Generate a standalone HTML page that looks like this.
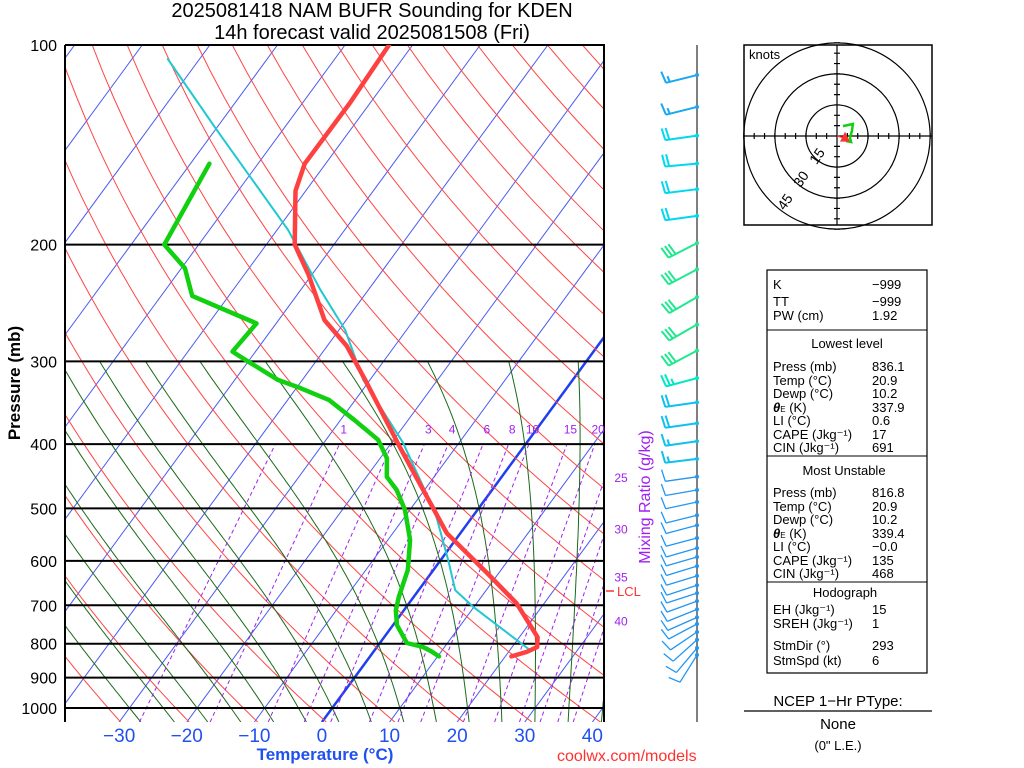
<!DOCTYPE html>
<html><head><meta charset="utf-8"><style>
html,body{margin:0;padding:0;background:#fff;}
svg{display:block;font-family:"Liberation Sans",sans-serif;}
</style></head><body>
<svg id="chart" width="1024" height="768" viewBox="0 0 1024 768" xmlns="http://www.w3.org/2000/svg">
<defs><clipPath id="plotclip"><rect x="65" y="45" width="540" height="677"/></clipPath></defs>
<text x="372" y="17" font-size="20" text-anchor="middle">2025081418 NAM BUFR Sounding for KDEN</text>
<text x="372" y="39" font-size="20" text-anchor="middle">14h forecast valid 2025081508 (Fri)</text>
<g id="bg" clip-path="url(#plotclip)"></g>
<g id="plines"></g>
<g id="traces" clip-path="url(#plotclip)"></g>
<g id="labels"></g>
<text transform="translate(20,383) rotate(-90)" font-size="17" font-weight="bold" text-anchor="middle">Pressure (mb)</text>
<text x="325" y="760" font-size="17" font-weight="bold" fill="#2050f0" text-anchor="middle">Temperature (°C)</text>
<text transform="translate(650,497) rotate(-90)" font-size="16" fill="#a020f0" text-anchor="middle">Mixing Ratio (g/kg)</text>
<text x="557" y="761" font-size="16" fill="#ff3030">coolwx.com/models</text>
<line x1="697" y1="45" x2="697" y2="722" stroke="#555" stroke-width="1.5"/>
<g id="barbs"></g>
<g id="hodo">
<rect x="744" y="45" width="188" height="180" fill="none" stroke="#000" stroke-width="1.5"/>
<text x="749" y="59" font-size="13">knots</text>
</g>
<g font-size="13">
<rect x="767" y="270" width="160" height="403" fill="none" stroke="#000" stroke-width="1.2"/>
<line x1="767" y1="330" x2="927" y2="330" stroke="#000"/>
<line x1="767" y1="456" x2="927" y2="456" stroke="#000"/>
<line x1="767" y1="582" x2="927" y2="582" stroke="#000"/>
<text x="773" y="289">K</text><text x="872" y="289">−999</text>
<text x="773" y="306">TT</text><text x="872" y="306">−999</text>
<text x="773" y="320">PW (cm)</text><text x="872" y="320">1.92</text>
<text x="847" y="348" text-anchor="middle">Lowest level</text>
<text x="773" y="371">Press (mb)</text><text x="872" y="371">836.1</text>
<text x="773" y="385">Temp (°C)</text><text x="872" y="385">20.9</text>
<text x="773" y="398">Dewp (°C)</text><text x="872" y="398">10.2</text>
<text x="773" y="412"><tspan font-style="italic" font-weight="bold">θ</tspan><tspan font-size="8">E</tspan> (K)</text><text x="872" y="412">337.9</text>
<text x="773" y="425">LI (°C)</text><text x="872" y="425">0.6</text>
<text x="773" y="439">CAPE (Jkg⁻¹)</text><text x="872" y="439">17</text>
<text x="773" y="452">CIN (Jkg⁻¹)</text><text x="872" y="452">691</text>
<text x="844" y="475" text-anchor="middle">Most Unstable</text>
<text x="773" y="497">Press (mb)</text><text x="872" y="497">816.8</text>
<text x="773" y="511">Temp (°C)</text><text x="872" y="511">20.9</text>
<text x="773" y="524">Dewp (°C)</text><text x="872" y="524">10.2</text>
<text x="773" y="538"><tspan font-style="italic" font-weight="bold">θ</tspan><tspan font-size="8">E</tspan> (K)</text><text x="872" y="538">339.4</text>
<text x="773" y="551">LI (°C)</text><text x="872" y="551">−0.0</text>
<text x="773" y="565">CAPE (Jkg⁻¹)</text><text x="872" y="565">135</text>
<text x="773" y="578">CIN (Jkg⁻¹)</text><text x="872" y="578">468</text>
<text x="845" y="597" text-anchor="middle">Hodograph</text>
<text x="773" y="614">EH (Jkg⁻¹)</text><text x="872" y="614">15</text>
<text x="773" y="628">SREH (Jkg⁻¹)</text><text x="872" y="628">1</text>
<text x="773" y="650">StmDir (°)</text><text x="872" y="650">293</text>
<text x="773" y="665">StmSpd (kt)</text><text x="872" y="665">6</text>
</g>
<text x="838" y="706" font-size="15" text-anchor="middle">NCEP 1−Hr PType:</text>
<line x1="744" y1="711" x2="932" y2="711" stroke="#000" stroke-width="1.2"/>
<text x="838" y="729" font-size="15" text-anchor="middle">None</text>
<text x="838" y="750" font-size="13" text-anchor="middle">(0" L.E.)</text>
</svg>
<script>
const tempP=[100,122,151,166,200,222,260,284,320,404,545,626,695,782,809,823,836];
const tempT=[-63.5,-63.0,-63.1,-61.5,-55.8,-50.5,-43.2,-37.2,-30.7,-18.3,-2.0,8.3,15.9,22.7,23.7,22.7,20.9];
const dewP=[151,200,217,239,263,290,300,320,329,343,368,394,420,448,469,503,558,619,680,712,750,798,809,822,836];
const dewT=[-77.2,-75.1,-69.5,-65.4,-52.9,-53.4,-50.1,-43.6,-39.5,-33.9,-27.9,-22.3,-19.0,-17.0,-14.1,-10.7,-6.7,-3.8,-2.2,-1.2,0.6,4.0,6.8,8.6,10.2];
const parP=[105,134,190,234,269,320,398,508,598,664,704,755,818];
const parT=[-94.7,-79.9,-58.4,-47.1,-39.1,-31.0,-18.3,-5.9,1.1,5.4,9.9,16.0,23.0];
const windP=[111,124,137,151,165,181,199,218,240,264,289,318,346,372,396,421,448,469,489,512,530,554,574,592,611,632,653,671,690,710,730,747,768,789,812,832];
const windDir=[256,256,262,265,263,262,243,242,240,240,242,255,262,262,262,263,262,260,258,256,255,255,254,254,253,253,252,252,250,248,246,242,236,228,220,212];
const windSpd=[15,15,20,20,20,20,30,30,30,30,30,25,20,20,15,15,10,10,10,10,10,10,10,10,10,10,10,10,10,10,10,10,10,10,10,10];
const hodoU=[2.9,7.7,7.2,6.3,6.8,4.3];
const hodoV=[4.8,5.8,2.4,-1.0,-2.9,-2.4];
const tickTemps=[-30,-20,-10,0,10,20,30,40];
const pLevels=[100,200,300,400,500,600,700,800,900,1000];
const mixRatios=[0.4,1,2,3,4,6,8,10,15,20,25,30,35,40];
const NS="http://www.w3.org/2000/svg";
function Y(p){return 45+663*Math.log10(p/100);}
function X(T,p){return 322+6.76*T+0.733*(722-Y(p));}
function mk(tag,attrs,parent){const e=document.createElementNS(NS,tag);for(const k in attrs)e.setAttribute(k,attrs[k]);parent.appendChild(e);return e;}
const bg=document.getElementById('bg');
for(let T=-150;T<=50;T+=10){
 const l=mk('line',{x1:X(T,1050),y1:Y(1050),x2:X(T,100),y2:Y(100),stroke:T===0?'#2040f0':'#4a5af0','stroke-width':T===0?2.5:1},bg);
 
 
}
for(let th=200;th<=520;th+=10){
 let pts=[];for(let p=1050;p>=100;p-=10){const T=th*Math.pow(p/1000,0.2857)-273.15;pts.push(X(T,p).toFixed(1)+','+Y(p).toFixed(1));}
 const l=mk('polyline',{points:pts.join(' '),fill:'none',stroke:'#ff4545','stroke-width':1},bg);
 
 
}
function dTdp(T,p){const es=6.112*Math.exp(17.67*(T-273.15)/(T-29.65));const rs=0.622*es/(p-es);const Lv=2.5e6,Rd=287,cp=1005;return (Rd*T+Lv*rs)/(p*(cp+Lv*Lv*rs*0.622/(Rd*T*T)));}
for(let tw=-30;tw<=40;tw+=5){
 let T=tw+273.15,pts=[];
 let Tb=T;for(let p=1000;p<1050;p+=5){Tb+=dTdp(Tb,p)*5;}
 pts.push(X(Tb-273.15,1050).toFixed(1)+','+Y(1050).toFixed(1));
 for(let p=1000;p>=300;p-=5){pts.push(X(T-273.15,p).toFixed(1)+','+Y(p).toFixed(1));T-=dTdp(T,p)*5;}
 const l=mk('polyline',{points:pts.join(' '),fill:'none',stroke:'#1a6a1a','stroke-width':1},bg);
 
 
}
function tdw(w,p){const e=w*p/(622+w);const a=Math.log(e/6.112);return 243.5*a/(17.67-a);}
const lab=document.getElementById('labels');
mixRatios.forEach(w=>{
 const l=mk('line',{x1:X(tdw(w,1050),1050),y1:Y(1050),x2:X(tdw(w,400),400),y2:Y(400),stroke:'#a020f0','stroke-width':1,'stroke-dasharray':'4,3'},bg);
 
 
 if(w===0.4||w===2)return;
 let tx,ty;
 if(w<=20){tx=X(tdw(w,388),388);ty=Y(388)-2;}
 else{let p=1050;for(let q=400;q<=1050;q+=1){if(X(tdw(w,q),q)<=605){p=q;break;}}tx=621;ty=Y(p)+5;}
 const t=mk('text',{x:tx,y:ty,'font-size':12,fill:'#a020f0','text-anchor':'middle'},lab);
 t.textContent=w;
 
 
});
const pl=document.getElementById('plines');
pLevels.forEach(p=>{
 const l=mk('line',{x1:65,y1:Y(p),x2:605,y2:Y(p),stroke:'#000','stroke-width':2},pl);
 
 
 const t=mk('text',{x:57,y:Y(p)+6,'font-size':16,'text-anchor':'end'},lab);
 t.textContent=p;
 
 
});
const ax=mk('path',{d:'M65,45 V722 M604,45 V722',stroke:'#000','stroke-width':2,fill:'none'},pl);


tickTemps.forEach(T=>{
 const t=mk('text',{x:X(T,1050),y:742,'font-size':19,fill:'#2050f0','text-anchor':'middle'},lab);
 t.textContent=T<0?'−'+(-T):T;
 
 
});
const lcl=mk('line',{x1:606,y1:591,x2:614,y2:591,stroke:'#ff3030','stroke-width':1.5},lab);


const lclt=mk('text',{x:617,y:596,'font-size':13,fill:'#ff3030'},lab);
lclt.textContent='LCL';


const tr=document.getElementById('traces');
function trace(P,T,color,w,name){
 const pts=P.map((p,i)=>X(T[i],p).toFixed(1)+','+Y(p).toFixed(1)).join(' ');
 const l=mk('polyline',{points:pts,fill:'none',stroke:color,'stroke-width':w,'stroke-linejoin':'round','stroke-linecap':'round'},tr);
 
 
}
trace(parP,parT,'#20c8d0',2,'parcel-trace');
trace(tempP,tempT,'#ff4040',4.5,'temperature-trace');
trace(dewP,dewT,'#10d010',4.5,'dewpoint-trace');
const bb=document.getElementById('barbs');
windP.forEach((p,i)=>{
 const y=Y(p),x=697,d=windDir[i]*Math.PI/180,s=windSpd[i];
 const sx=Math.sin(d),sy=-Math.cos(d),L=32;
 const tx=x+sx*L,ty=y+sy*L;
 const px=-sy,py=sx;
 let col=i<2?'#1aa8f0':i<6?'#00d8f0':i<11?'#20e890':i<12?'#00e8c8':i<16?'#10c0f0':'#2196f3';
 let d2='M'+x+','+y+' L'+tx.toFixed(1)+','+ty.toFixed(1);
 let rem=s,k=0;
 while(rem>=10){const bx=tx-sx*k*4,by=ty-sy*k*4;d2+=' M'+bx.toFixed(1)+','+by.toFixed(1)+' l'+(px*12+sx*2).toFixed(1)+','+(py*12+sy*2).toFixed(1);rem-=10;k++;}
 if(rem>=5){if(k===0)k=1;const bx=tx-sx*k*4,by=ty-sy*k*4;d2+=' M'+bx.toFixed(1)+','+by.toFixed(1)+' l'+(px*6+sx*1).toFixed(1)+','+(py*6+sy*1).toFixed(1);}
 const b=mk('path',{d:d2,stroke:col,'stroke-width':i<16?2:1.3,fill:'none'},bb);
 
 
 const c=mk('circle',{cx:x,cy:y,r:2,fill:col},bb);
 
 
});
const hg=document.getElementById('hodo');
const cx=837,cy=136,k=2.07;
[15,30,45].forEach(r=>{
 const c=mk('circle',{cx:cx,cy:cy,r:r*k,fill:'none',stroke:'#000','stroke-width':1.2},hg);
 
 
 const a=235*Math.PI/180;const rx=cx+Math.cos(a)*r*k*0.9,ry=cy-Math.sin(a)*r*k*0.9;
 const t=mk('text',{x:rx,y:ry,'font-size':14,'text-anchor':'middle',transform:'rotate(-55 '+rx+' '+ry+')'},hg);
 t.textContent=r;
 
 
});
let hax='M744,'+cy+' H932 M'+cx+',45 V225';
for(let v=-45;v<=45;v+=5){if(v===0)continue;hax+=' M'+(cx+v*k)+','+(cy-3)+' v6 M'+(cx-3)+','+(cy+v*k)+' h6';}
const ha=mk('path',{d:hax,stroke:'#000','stroke-width':1.2,fill:'none'},hg);


const hp=mk('polyline',{points:hodoU.map((u,i)=>(cx+u*k).toFixed(1)+','+(cy-hodoV[i]*k).toFixed(1)).join(' '),fill:'none',stroke:'#10d010','stroke-width':2.5},hg);


const sm=mk('path',{d:'M'+cx+','+cy+' L845,138 M841,141 L845,133 L849,141 Z',stroke:'#ff3030',fill:'#ff3030','stroke-width':1.2},hg);


</script>
</body></html>
